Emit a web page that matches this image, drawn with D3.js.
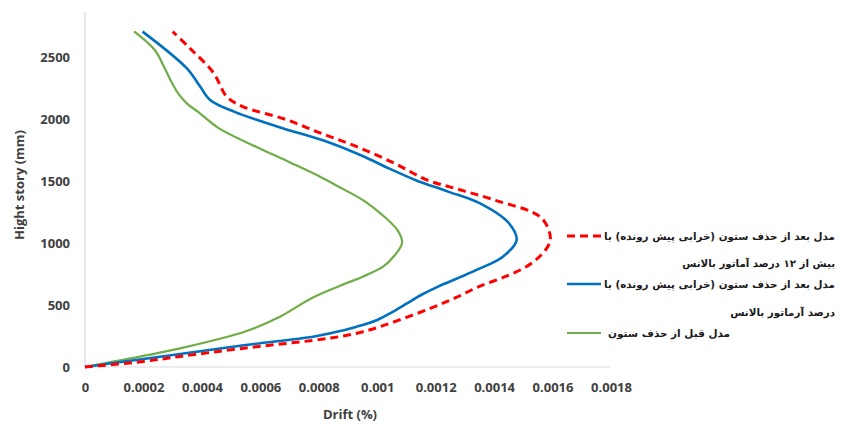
<!DOCTYPE html>
<html>
<head>
<meta charset="utf-8">
<script src="https://cdn.jsdelivr.net/npm/d3@7"></script>
<style>
  html, body { margin: 0; padding: 0; background: #fff; }
  svg { display: block; }
</style>
</head>
<body>
<svg id="chart" width="841" height="425"></svg>
<script>
// ---- data (drift, height mm) ----
const xTicks = [0, 0.0002, 0.0004, 0.0006, 0.0008, 0.001, 0.0012, 0.0014, 0.0016, 0.0018];
const yTicks = [0, 500, 1000, 1500, 2000, 2500];

const redDrift   = [0, 0.0002, 0.000325, 0.00055, 0.00084, 0.00093, 0.00101, 0.0011, 0.00119, 0.00127, 0.00135, 0.00144, 0.00151, 0.00156, 0.00159, 0.00159, 0.001557, 0.0014, 0.00128, 0.00117, 0.00106, 0.00093, 0.000804, 0.00068, 0.00054, 0.000485, 0.00044, 0.000359, 0.0003];
const redHeight  = [0, 45, 85, 153, 233, 272, 325, 400, 480, 560, 650, 730, 808, 900, 1000, 1080, 1211, 1346, 1430, 1507, 1640, 1775, 1886, 2000, 2098, 2178, 2369, 2568, 2702];

const blueDrift  = [0, 0.0000967, 0.000325, 0.00055, 0.00078, 0.00084, 0.00093, 0.001, 0.00105, 0.0011, 0.00115, 0.00121, 0.00128, 0.00134, 0.00143, 0.001477, 0.00145, 0.00135, 0.00124, 0.00113, 0.00104, 0.00095, 0.00084, 0.00066, 0.00051, 0.000428, 0.000394, 0.000348, 0.000197];
const blueHeight = [0, 32, 105, 177, 244, 272, 325, 379, 440, 510, 580, 650, 720, 782, 889, 1023, 1160, 1320, 1415, 1507, 1600, 1700, 1805, 1936, 2057, 2152, 2259, 2407, 2702];

const greenDrift  = [0, 0.0000967, 0.000325, 0.000553, 0.000667, 0.00078, 0.000896, 0.00095, 0.00102, 0.00106, 0.001085, 0.00107, 0.00101, 0.00095, 0.00087, 0.00079, 0.0007, 0.000585, 0.00046, 0.00039, 0.00035, 0.00032, 0.000295, 0.00027, 0.00024, 0.000168];
const greenHeight = [0, 43, 150, 290, 405, 560, 676, 728, 808, 900, 1000, 1100, 1240, 1346, 1450, 1550, 1650, 1775, 1920, 2050, 2120, 2200, 2300, 2420, 2550, 2703];

const legendLabels = [
  ["مدل بعد از حذف ستون (خرابی پیش رونده) با", "بیش از ۱۲ درصد آماتور بالانس"],
  ["مدل بعد از حذف ستون (خرابی پیش رونده) با", "درصد آرماتور بالانس"],
  ["مدل قبل از حذف ستون"]
];

const series = [
  { name: "red",   drift: redDrift,   height: redHeight,   color: "#FF0000", width: 3,   dash: "8,5" },
  { name: "blue",  drift: blueDrift,  height: blueHeight,  color: "#0070C0", width: 2.6, dash: null },
  { name: "green", drift: greenDrift, height: greenHeight, color: "#70AD47", width: 2.2, dash: null }
];

// ---- layout ----
const svg = d3.select("#chart");
const x = d3.scaleLinear().domain([0, 0.0018]).range([85, 611]);
const y = d3.scaleLinear().domain([0, 2860]).range([367, 12]);

const tickFont = "'Open Sans', 'DejaVu Sans', sans-serif";

// axes lines
svg.append("line").attr("x1", x(0)).attr("x2", x(0.0018)).attr("y1", y(0)).attr("y2", y(0))
  .attr("stroke", "#D9D9D9").attr("stroke-width", 1.2);
svg.append("line").attr("x1", x(0)).attr("x2", x(0)).attr("y1", y(0)).attr("y2", y(2860))
  .attr("stroke", "#D9D9D9").attr("stroke-width", 1.2);

// x axis
const xAxis = d3.axisBottom(x).tickValues(xTicks).tickSize(0).tickPadding(0)
  .tickFormat(d => d === 0 ? "0" : String(+d.toFixed(4)));
const gx = svg.append("g").attr("transform", `translate(0, ${y(0)})`).call(xAxis);
gx.select(".domain").remove();
gx.selectAll("text").attr("dy", null).attr("y", 25)
  .attr("font-family", tickFont).attr("font-size", 13).attr("font-weight", 700).attr("fill", "#404040");

// y axis
const yAxis = d3.axisLeft(y).tickValues(yTicks).tickSize(0).tickPadding(0).tickFormat(d3.format("d"));
const gy = svg.append("g").attr("transform", `translate(70, 0)`).call(yAxis);
gy.select(".domain").remove();
gy.selectAll("text").attr("x", 0).attr("dy", "0.35em")
  .attr("font-family", tickFont).attr("font-size", 13).attr("font-weight", 700).attr("fill", "#404040");

// axis titles
svg.append("text").attr("x", 350).attr("y", 419).attr("text-anchor", "middle")
  .attr("font-family", tickFont).attr("font-size", 13).attr("font-weight", 700).attr("fill", "#404040")
  .text("Drift (%)");
svg.append("text").attr("transform", "translate(24, 185) rotate(-90)").attr("text-anchor", "middle")
  .attr("font-family", tickFont).attr("font-size", 13).attr("font-weight", 700).attr("fill", "#404040")
  .text("Hight story (mm)");

// lines
const line = d3.line().x(d => x(d[0])).y(d => y(d[1])).curve(d3.curveCatmullRom.alpha(0.5));
series.slice().reverse().forEach(s => {
  const pts = s.drift.map((v, i) => [v, s.height[i]]);
  svg.append("path").datum(pts).attr("d", line)
    .attr("fill", "none").attr("stroke", s.color).attr("stroke-width", s.width)
    .attr("stroke-dasharray", s.dash).attr("stroke-linejoin", "round");
});

// legend
const legFont = "'DejaVu Sans', sans-serif";
const legRows = [
  { s: 0, sy: 236, lines: [{ t: legendLabels[0][0], y: 236, x1: 604, x2: 835 }, { t: legendLabels[0][1], y: 263, x1: 682, x2: 835 }] },
  { s: 1, sy: 284, lines: [{ t: legendLabels[1][0], y: 284, x1: 604, x2: 835 }, { t: legendLabels[1][1], y: 312, x1: 730, x2: 835 }] },
  { s: 2, sy: 333, lines: [{ t: legendLabels[2][0], y: 333, x1: 608, x2: 730 }] }
];
legRows.forEach(r => {
  const s = series[r.s];
  svg.append("line").attr("x1", 567).attr("x2", 601).attr("y1", r.sy).attr("y2", r.sy)
    .attr("stroke", s.color).attr("stroke-width", s.width).attr("stroke-dasharray", s.dash);
  r.lines.forEach(l => {
    const t = svg.append("text").attr("x", l.x2).attr("y", l.y).attr("dy", "0.35em")
      .attr("text-anchor", "start").attr("direction", "rtl")
      .attr("font-family", legFont).attr("font-size", 12).attr("font-weight", 700).attr("fill", "#1a1a1a")
      .text(l.t);
    const w = t.node().getComputedTextLength();
    const target = l.x2 - l.x1;
    if (w > 0) {
      const fs = Math.max(8, Math.min(14, 12 * target / w));
      t.attr("font-size", fs.toFixed(2));
    }
  });
});
</script>
</body>
</html>
